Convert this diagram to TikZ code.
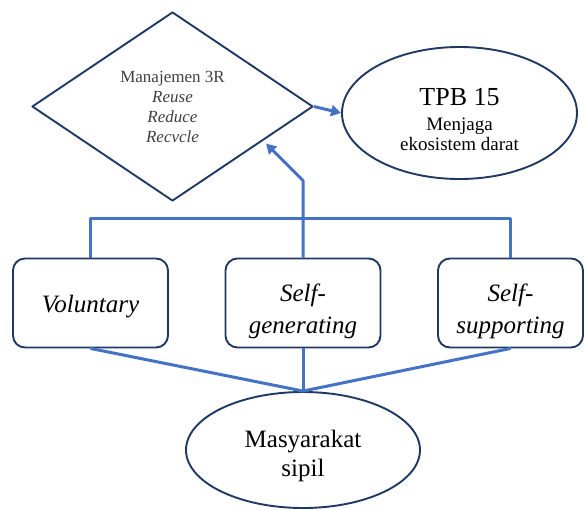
\documentclass[tikz,border=0pt]{standalone}
\usepackage{fontspec}
\setmainfont{Liberation Serif}
\usetikzlibrary{shapes.geometric,arrows.meta}
\definecolor{birugaris}{HTML}{4472C4}
\definecolor{birutua}{HTML}{1F3864}

\begin{document}
\begin{tikzpicture}[x=1pt, y=-1pt, line join=round,
	tepi/.style={draw=birutua, line width=1.9pt, inner sep=0pt, align=center},
	kotak/.style={tepi, rounded corners=12pt, minimum width=155pt, minimum height=89pt, font=\fontsize{25}{32}\selectfont\itshape},
	elips/.style={tepi, ellipse},
	hubung/.style={draw=birugaris, line width=3pt},
	panah/.style={hubung, -{Triangle[length=10pt,width=11pt]}}]
	\useasboundingbox (0,0) rectangle (584,509);
	% bentuk utama
	\node[tepi, diamond, aspect=1.49, minimum width=281pt, minimum height=189pt, text=black!75, font=\fontsize{17}{20}\selectfont] (r3) at (172.5,106.5) {Manajemen 3R\\ \textit{Reuse}\\ \textit{Reduce}\\ \textit{Recvcle}};
	\node[elips, minimum width=235pt, minimum height=132pt, font=\fontsize{19}{20}\selectfont] (tpb) at (459.5,113) {{\fontsize{26}{26}\selectfont\rule{0pt}{31pt}TPB 15}\\[5pt] Menjaga\\ ekosistem darat};
	\node[kotak] (vol) at (90.5,303) {\rule{0pt}{24pt}Voluntary};
	\node[kotak] (gen) at (303,303) {\rule{0pt}{35pt}Self-\\ generating};
	\node[kotak, minimum width=145pt] (supp) at (510.5,303) {\rule{0pt}{35pt}Self-\\ supporting};
	\node[elips, minimum width=234pt, minimum height=116pt, font=\fontsize{25}{29}\selectfont] (mas) at (303,450) {\rule{0pt}{30pt}Masyarakat\\ sipil};
	% penghubung
	\draw[panah] (r3.east) -- (tpb.west);
	\draw[hubung] (vol.north) -- ++(0,-39) -| (supp.north);
	\draw[panah] (gen.north) -- ++(0,-77) -- ++(-37,-37);
	\foreach \k in {vol,gen,supp} \draw[hubung] (\k.south) -- (mas.north);
\end{tikzpicture}
\end{document}
